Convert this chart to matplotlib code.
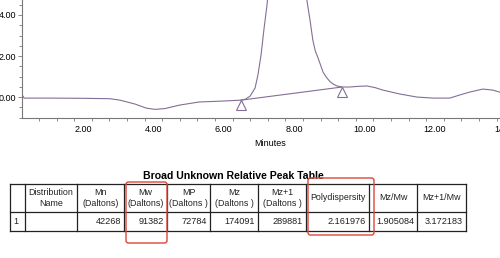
import numpy as np
import matplotlib
matplotlib.use('Agg')
import matplotlib.pyplot as plt
import matplotlib.transforms as mtransforms
from matplotlib.ticker import FixedLocator, MultipleLocator
from matplotlib.patches import FancyBboxPatch

plt.rcParams['font.family'] = ['Liberation Sans', 'DejaVu Sans']

# chromatogram trace (minutes, detector response)
rt = [0.27, 0.33, 1.0, 2.0, 2.77, 3.05, 3.48, 3.8, 4.05, 4.33, 4.75, 5.3, 5.9,
      6.49, 6.62, 6.75, 6.89, 6.97, 7.06, 7.14, 7.23, 7.4, 7.7, 8.0, 8.2, 8.36,
      8.45, 8.53, 8.6, 8.68, 8.82, 8.92, 9.02, 9.12, 9.22, 9.36, 9.58, 9.8,
      10.07, 10.3, 10.52, 11.0, 11.49, 11.94, 12.42, 12.7, 12.98, 13.36, 13.64,
      13.84, 14.2]
signal = [0.12, -0.05, -0.05, -0.06, -0.08, -0.15, -0.34, -0.54, -0.6, -0.56,
          -0.39, -0.24, -0.2, -0.15, -0.1, 0.05, 0.44, 1.07, 2.05, 3.27, 4.5,
          8.0, 11.0, 10.0, 7.0, 4.73, 3.76, 2.78, 2.25, 1.9, 1.22, 0.95, 0.75,
          0.62, 0.54, 0.49, 0.49, 0.52, 0.54, 0.46, 0.34, 0.15, 0.0, -0.05,
          -0.05, 0.1, 0.24, 0.39, 0.34, 0.24, 0.1]
# integration baseline start / end marks
base_rt = [6.49, 9.36]
base_y = [-0.15, 0.49]

title = 'Broad Unknown Relative Peak Table'
headers = ['', 'Distribution\nName', 'Mn\n(Daltons)', 'Mw\n(Daltons)',
           'MP\n(Daltons )', 'Mz\n(Daltons )', 'Mz+1\n(Daltons )',
           'Polydispersity', 'Mz/Mw', 'Mz+1/Mw']
row = ['1', '', '42268', '91382', '72784', '174091', '289881',
       '2.161976', '1.905084', '3.172183']

W, H = 500, 258
fig = plt.figure(figsize=(W / 100, H / 100), dpi=100)

TRACE = '#846e96'
ax = fig.add_axes([22 / W, 140 / H, 501 / W, 118 / H])
ax.plot(rt, signal, color=TRACE, lw=0.8, zorder=3)
ax.plot(base_rt, base_y, color=TRACE, lw=0.8, zorder=3)
# open triangles hanging below the baseline ends, apex on the point
ms = 7
shift = mtransforms.ScaledTranslation(0, -ms / 2 / 72, fig.dpi_scale_trans)
ax.plot(base_rt, base_y, linestyle='none', marker='^', ms=ms, mfc='none',
        mec=TRACE, mew=0.8, zorder=4, clip_on=False,
        transform=ax.transData + shift)
ax.set_xlim(0.27, 14.5)
ax.set_ylim(-1.02, 4.73)
ax.spines[['top', 'right']].set_visible(False)
for sp in ax.spines.values():
    sp.set_color('#777777')
    sp.set_linewidth(0.8)
ax.set_yticks([0, 2, 4])
ax.set_yticklabels(['0.00', '2.00', '4.00'])
ax.yaxis.set_minor_locator(MultipleLocator(0.5))
ax.set_xticks([2, 4, 6, 8, 10, 12, 14])
ax.set_xticklabels(['2.00', '4.00', '6.00', '8.00', '10.00', '12.00', '14.00'])
ax.xaxis.set_minor_locator(FixedLocator(np.arange(0.75, 14.5, 0.5)))
ax.tick_params(axis='x', which='major', length=0, pad=5, labelsize=6.5)
ax.tick_params(axis='x', which='minor', length=2.5, color='#777777', width=0.6)
ax.tick_params(axis='y', which='major', length=3, color='#777777', width=0.6,
               pad=1, labelsize=6.5)
ax.tick_params(axis='y', which='minor', length=2, color='#777777', width=0.6)

# overlay in pixel coordinates for labels and the peak table
ov = fig.add_axes([0, 0, 1, 1])
ov.set_xlim(0, W)
ov.set_ylim(H, 0)
ov.axis('off')
ov.patch.set_alpha(0)

ov.text(270, 143, 'Minutes', ha='center', va='center', fontsize=6.5)
ov.text(233, 176, title, ha='center', va='center', fontsize=7.6,
        fontweight='bold')

cols = [10, 25, 77, 124, 167, 210, 258, 306, 369, 417, 466]
top, mid, bot = 184, 212, 231
for y in (top, mid, bot):
    ov.plot([cols[0], cols[-1]], [y, y], color='#222222', lw=0.9)
for x in cols:
    ov.plot([x, x], [top, bot], color='#222222', lw=0.9)

for i, h in enumerate(headers):
    cx = (cols[i] + cols[i + 1]) / 2
    ov.text(cx, (top + mid) / 2, h, ha='center', va='center', fontsize=6.4,
            linespacing=1.15, color='#222222')
for i, v in enumerate(row):
    if i == 0:
        ov.text(cols[i] + 3, (mid + bot) / 2, v, ha='left', va='center',
                fontsize=6.6, color='#222222')
    else:
        ov.text(cols[i + 1] - 3, (mid + bot) / 2, v, ha='right', va='center',
                fontsize=6.6, color='#222222')

RED = '#d9473c'
for x0, y0, x1, y1 in [(126, 182, 167, 243), (308, 178, 374, 235)]:
    ov.add_patch(FancyBboxPatch((x0, y0), x1 - x0, y1 - y0,
                                boxstyle='round,pad=0,rounding_size=2.5',
                                fill=False, ec=RED, lw=1.0, zorder=5))

fig.savefig('out.png', dpi=100)
